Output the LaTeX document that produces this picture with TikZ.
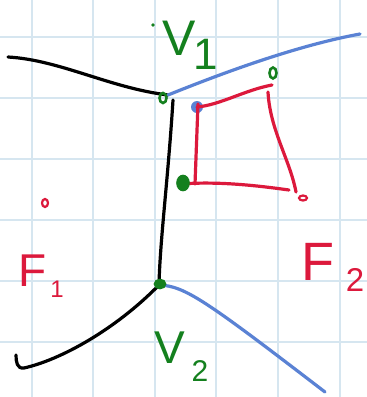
\documentclass[tikz,border=0pt]{standalone}
\usepackage{fontspec}
\setmainfont{Liberation Sans}
\usetikzlibrary{shapes.geometric}
\definecolor{gridc}{RGB}{214,230,240}
\definecolor{pgreen}{RGB}{20,128,30}
\definecolor{pred}{RGB}{220,25,60}
\definecolor{pblue}{RGB}{90,130,212}
\begin{document}
\begin{tikzpicture}[x=1pt,y=-1pt,
  stroke/.style={line width=3.2pt,line cap=round,line join=round},
  gmark/.style={draw=pgreen,line width=2.6pt,ellipse,inner sep=0pt},
  lab/.style={inner sep=0pt,font=\fontsize{#1}{#1}\selectfont}]
\useasboundingbox (0,0) rectangle (367,397);
\fill[white] (0,0) rectangle (367,397);
% grid
\foreach \x in {32,93,155,216,278,340} \draw[gridc,line width=1.3pt] (\x,0) -- (\x,397);
\foreach \y in {37,98,159,220,281,342} \draw[gridc,line width=1.3pt] (0,\y) -- (367,\y);
% vertices
\coordinate (v1) at (168,95);
\coordinate (v1b) at (173,100);
\coordinate (v2) at (159,285);
\coordinate (tl) at (8,57);
\coordinate (tr) at (360,34);
\coordinate (bl) at (16,355);
\coordinate (br) at (325,392);
% edges
\draw[stroke,black] (tl) .. controls (60,60) and (110,88) .. (v1);
\draw[stroke,pblue] (v1) .. controls (230,70) and (300,45) .. (tr);
\draw[stroke,black] (v1b) .. controls (168,180) and (160,240) .. (v2);
\draw[stroke,pblue] (v2) .. controls (185,286) and (205,300) .. (br);
\draw[stroke,black] (v2) .. controls (115,330) and (60,360) .. (24,368) .. controls (17,369) and (16,362) .. (bl);
% red square
\coordinate (a) at (197,107);
\coordinate (b) at (272,85);
\coordinate (c) at (296,192);
\coordinate (d) at (181,184);
\fill[pblue] (a) circle (6);
\draw[stroke,pred] (a) .. controls (220,105) and (245,90) .. (b);
\draw[stroke,pred] (198,104) -- (195,184);
\draw[stroke,pred] (d) .. controls (220,181) and (260,186) .. (289,190);
\draw[stroke,pred] (268,92) .. controls (270,130) and (290,160) .. (c);
% green marks
\node[gmark,minimum width=7pt,minimum height=10pt] (m1) at (163,98) {};
\node[gmark,minimum width=7pt,minimum height=11pt] (m2) at (273,73) {};
\node[gmark,fill=pgreen,minimum width=11pt,minimum height=14pt] (m3) at (183,183) {};
\node[gmark,fill=pgreen,minimum width=10pt,minimum height=8pt] (m4) at (160,284) {};
\fill[pgreen] (153,25) circle (1.8);
% red small marks
\node[draw=pred,line width=2.2pt,ellipse,minimum width=8pt,minimum height=5pt,inner sep=0pt] (r1) at (303,198) {};
\node[draw=pred,line width=2.2pt,ellipse,minimum width=6pt,minimum height=8pt,inner sep=0pt] (r2) at (45,203) {};
% labels
\node[lab=50,text=pgreen] (V1) at (179,38) {V};
\node[lab=44,text=pgreen] (V1s) at (206,54) {1};
\node[lab=46,text=pgreen] (V2) at (170,348) {V};
\node[lab=30,text=pgreen] (V2s) at (200,371) {2};
\node[lab=46,text=pred] (F1) at (33,271) {F};
\node[lab=24,text=pred] (F1s) at (57,289) {1};
\node[lab=54,text=pred] (F2) at (318,262) {F};
\node[lab=33,text=pred] (F2s) at (355,280) {2};
\end{tikzpicture}
\end{document}
